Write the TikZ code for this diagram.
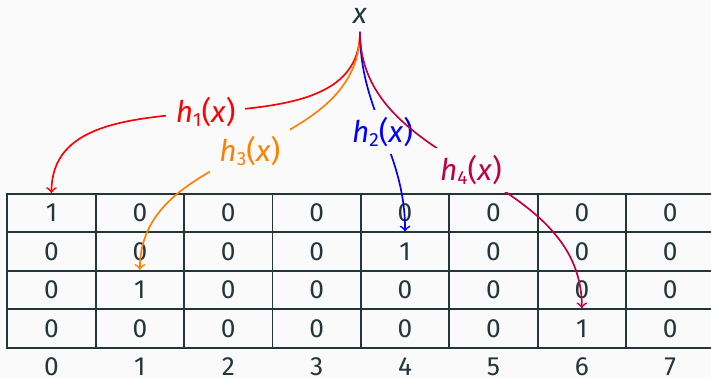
\documentclass[tikz,border=0pt]{standalone}
\usepackage{fontspec}
\setmainfont{Fira Sans}
\usepackage{xcolor}
\definecolor{mDark}{HTML}{23373B}
\definecolor{mBg}{HTML}{FAFAFA}
\newcommand{\hashof}[1]{\textit{h}\raisebox{-0.25ex}{\footnotesize #1}(\textit{x})}

\begin{document}
\begin{tikzpicture}[font=\fontsize{11}{13}\selectfont, mDark]
  \tikzstyle{cell} = [draw=mDark, line width=0.8pt, minimum width=1.3cm,
    minimum height=0.565cm, inner sep=0pt]
  \tikzstyle{hlab} = [fill=mBg, inner xsep=4pt, inner ysep=3pt,
    font=\fontsize{12.5}{15}\selectfont]
  \tikzstyle{hasharrow} = [->, line width=0.7pt, out=-90, in=90]

  \fill[mBg] (-0.107,-2.721) rectangle (10.349,2.853);
  \useasboundingbox (-0.107,-2.721) rectangle (10.349,2.853);

  \foreach \r/\vals in {0/{1,0,0,0,0,0,0,0}, 1/{0,0,0,0,1,0,0,0},
      2/{0,1,0,0,0,0,0,0}, 3/{0,0,0,0,0,0,1,0}}
    \foreach \v [count=\c from 0] in \vals
      \node[cell] (c\r\c) at (0.65+1.3*\c, -0.2825-0.565*\r) {\v};

  \foreach \c in {0,...,7}
    \node (idx\c) at (0.65+1.3*\c, -2.54) {\c};

  \node[font=\fontsize{12}{14}\selectfont] (elem) at (5.187,2.62) {\textit{x}};

  \draw[hasharrow, red] (elem.south) to node[hlab] {\hashof{1}} (c00.north);
  \draw[hasharrow, orange] (elem.south) to node[hlab] {\hashof{3}} (c21.north);
  \draw[hasharrow, blue] (elem.south) to node[hlab] {\hashof{2}} (c14.north);
  \draw[hasharrow, purple] (elem.south) to node[hlab] {\hashof{4}} (c36.north);
\end{tikzpicture}
\end{document}
